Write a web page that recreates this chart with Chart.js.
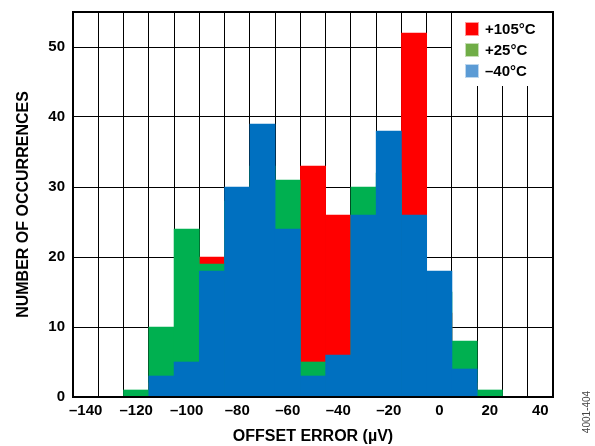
<!DOCTYPE html>
<html>
<head>
<meta charset="utf-8">
<script src="https://cdn.jsdelivr.net/npm/chart.js@4/dist/chart.umd.min.js"></script>
<style>
html,body{margin:0;padding:0;background:#ffffff;}
#wrap{width:595px;height:446px;position:relative;}
</style>
</head>
<body>
<div id="wrap"><canvas id="c" width="595" height="446"></canvas></div>
<script>
// Bin centres of the offset error (µV)
const categories = [-140,-130,-120,-110,-100,-90,-80,-70,-60,-50,-40,-30,-20,-10,0,10,20,30,40];
// Occurrences per bin (bars overlap: -40°C in front, +25°C middle, +105°C behind)
const hot105 = [0,0,0,2,8,20,24,30,22,33,26,24,30,52,12,2,0,0,0];
const room25 = [0,0,1,10,24,19,28,33,31,5,4,30,32,20,15,8,1,0,0];
const cold40 = [0,0,0,3,5,18,30,39,24,3,6,26,38,26,18,4,0,0,0];
const seriesLabels = ['+105°C','+25°C','\u201340°C'];
const barColors = ['#FF0000','#00B050','#0070C0'];
const legendColors = ['#FF0000','#70AD47','#5B9BD5'];
const yTicks = [0,10,20,30,40,50];

const fmt = v => (v < 0 ? '\u2013' + Math.abs(v) : String(v));
const FONT = "'Liberation Sans', Arial, sans-serif";

const overlay = {
  id: 'overlay',
  afterDatasetsDraw(chart) {
    const {ctx, chartArea: a} = chart;
    ctx.save();
    // legend box
    const lx = a.right - 101, ly = a.top;
    ctx.fillStyle = '#ffffff';
    ctx.fillRect(lx, ly, a.right - lx, 74);
    ctx.font = 'bold 15px ' + FONT;
    ctx.textBaseline = 'middle';
    ctx.textAlign = 'left';
    for (let i = 0; i < seriesLabels.length; i++) {
      const cy = ly + 17 + i * 21;
      ctx.fillStyle = legendColors[i];
      ctx.fillRect(lx + 13, cy - 7, 14, 14);
      ctx.strokeStyle = 'rgba(255,255,255,0.6)';
      ctx.lineWidth = 1;
      ctx.strokeRect(lx + 13.5, cy - 6.5, 13, 13);
      ctx.fillStyle = '#000';
      ctx.fillText(seriesLabels[i], lx + 33, cy + 1);
    }
    // frame
    ctx.strokeStyle = '#000';
    ctx.lineWidth = 2;
    ctx.strokeRect(a.left, a.top, a.right - a.left, a.bottom - a.top);
    // side code
    ctx.translate(587, 412);
    ctx.rotate(-Math.PI / 2);
    ctx.font = '10px ' + FONT;
    ctx.fillStyle = '#444';
    ctx.textAlign = 'center';
    ctx.fillText('4001-404', 0, 0);
    ctx.restore();
  }
};

new Chart(document.getElementById('c'), {
  type: 'bar',
  data: {
    labels: categories.map(fmt),
    datasets: [
      {label: seriesLabels[0], data: hot105, backgroundColor: barColors[0], order: 3},
      {label: seriesLabels[1], data: room25, backgroundColor: barColors[1], order: 2},
      {label: seriesLabels[2], data: cold40, backgroundColor: barColors[2], order: 1}
    ]
  },
  options: {
    responsive: false,
    animation: false,
    devicePixelRatio: 1,
    layout: {padding: {top: 12, right: 42, left: 0, bottom: 0}},
    datasets: {bar: {grouped: false, barPercentage: 1, categoryPercentage: 1, borderWidth: 0}},
    plugins: {legend: {display: false}, tooltip: {enabled: false}},
    scales: {
      x: {
        type: 'category',
        offset: true,
        grid: {offset: true, color: '#000', lineWidth: 1, drawTicks: false},
        border: {display: false},
        ticks: {
          autoSkip: false, maxRotation: 0, padding: 5, color: '#000',
          font: {family: FONT, size: 15, weight: 'bold'},
          callback: function(v, i) { return i % 2 === 0 ? this.getLabelForValue(v) : ''; }
        },
        title: {display: true, text: 'OFFSET ERROR (µV)', color: '#000',
                font: {family: FONT, size: 16, weight: 'bold'}, padding: {top: 0, bottom: 0}},
        afterFit: s => { s.height = 49; s.paddingLeft = 0; s.paddingRight = 0; }
      },
      y: {
        min: 0, max: 55,
        grid: {color: '#000', lineWidth: 1, drawTicks: false},
        border: {display: false},
        afterBuildTicks: s => { s.ticks = yTicks.map(v => ({value: v})); },
        ticks: {padding: 8, color: '#000', font: {family: FONT, size: 15, weight: 'bold'}},
        title: {display: true, text: 'NUMBER OF OCCURRENCES', color: '#000',
                font: {family: FONT, size: 16, weight: 'bold'}, padding: {top: 14, bottom: 0}},
        afterFit: s => { s.width = 73; s.paddingTop = 0; s.paddingBottom = 0; }
      }
    }
  },
  plugins: [overlay]
});
</script>
</body>
</html>
